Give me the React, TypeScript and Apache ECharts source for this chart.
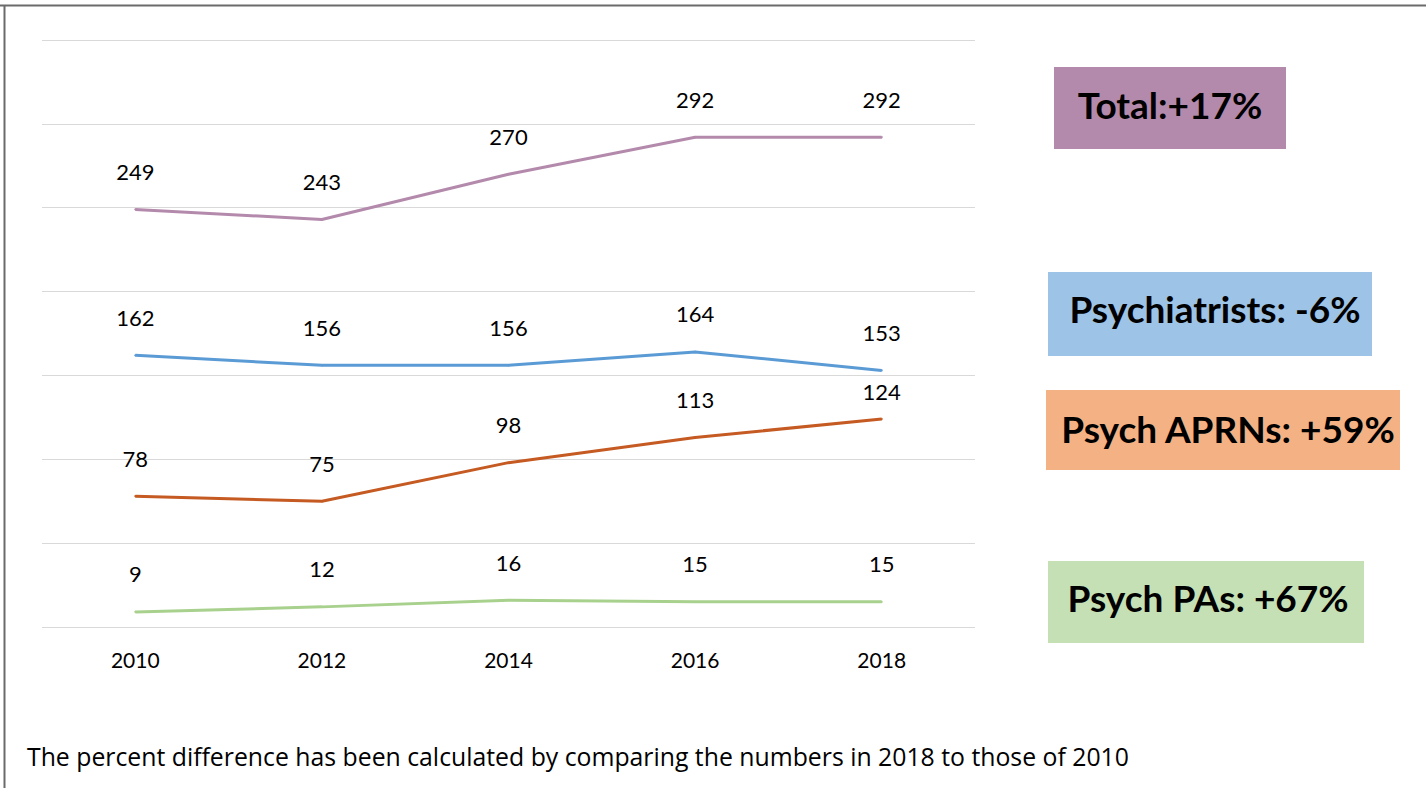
import React, { useEffect, useRef } from "react";
import * as echarts from "echarts";

const years = ["2010", "2012", "2014", "2016", "2018"];
const total = [249, 243, 270, 292, 292];
const psychiatrists = [162, 156, 156, 164, 153];
const aprns = [78, 75, 98, 113, 124];
const pas = [9, 12, 16, 15, 15];
const yTicks = { min: 0, max: 350, interval: 50 };

const boxes = [
  { text: "Total:+17%", color: "#b48aac" },
  { text: "Psychiatrists: -6%", color: "#9dc3e6" },
  { text: "Psych APRNs: +59%", color: "#f4b183" },
  { text: "Psych PAs: +67%", color: "#c5e0b4" },
];
const footer = "The percent difference has been calculated by comparing the numbers in 2018 to those of 2010";

const FONT = "Lato";

export default function App() {
  const ref = useRef<HTMLDivElement>(null);
  useEffect(() => {
    const chart = echarts.init(ref.current!, null, { renderer: "svg" });
    const mk = (name: string, data: number[], color: string, near?: number[]) => ({
      name,
      type: "line",
      data: data.map((v, i) =>
        near && near.includes(i) ? { value: v, label: { distance: 16 } } : v
      ),
      symbol: "circle",
      symbolSize: 2,
      itemStyle: { color },
      lineStyle: { color, width: 3 },
      label: {
        show: true,
        position: "top",
        distance: 26,
        fontSize: 22,
        fontFamily: FONT,
        color: "#000",
      },
    });
    const boxRects = [
      { x: 1054, y: 67, w: 232, h: 82, tx: 1170, ty: 104 },
      { x: 1048, y: 272, w: 324, h: 84, tx: 1215, ty: 308 },
      { x: 1046, y: 390, w: 354, h: 80, tx: 1228, ty: 428 },
      { x: 1048, y: 561, w: 316, h: 82, tx: 1208, ty: 597 },
    ];
    const graphic: any[] = [
      { type: "line", shape: { x1: 0, y1: 5.5, x2: 1426, y2: 5.5 }, style: { stroke: "#6b6b6b", lineWidth: 2 } },
      { type: "line", shape: { x1: 4.5, y1: 5, x2: 4.5, y2: 788 }, style: { stroke: "#6b6b6b", lineWidth: 2 } },
      {
        type: "text",
        x: 27,
        y: 756,
        style: { text: footer, font: `24.8px "Open Sans"`, fill: "#000", verticalAlign: "middle" },
      },
    ];
    boxes.forEach((b, i) => {
      const r = boxRects[i];
      graphic.push({
        type: "rect",
        shape: { x: r.x, y: r.y, width: r.w, height: r.h },
        style: { fill: b.color },
      });
      graphic.push({
        type: "text",
        x: r.tx,
        y: r.ty,
        style: {
          text: b.text,
          font: `bold 37px ${FONT}`,
          fill: "#000",
          align: "center",
          verticalAlign: "middle",
        },
      });
    });
    chart.setOption({
      animation: false,
      backgroundColor: "#fff",
      grid: { left: 42, right: 451, top: 40, bottom: 161 },
      xAxis: {
        type: "category",
        data: years,
        boundaryGap: true,
        axisLine: { show: false },
        axisTick: { show: false },
        axisLabel: { fontSize: 21, fontFamily: FONT, color: "#000", margin: 22 },
      },
      yAxis: {
        type: "value",
        min: yTicks.min,
        max: yTicks.max,
        interval: yTicks.interval,
        axisLabel: { show: false },
        axisLine: { show: false },
        axisTick: { show: false },
        splitLine: { lineStyle: { color: "#d9d9d9", width: 1 } },
      },
      series: [
        mk("Total", total, "#b48aac"),
        mk("Psychiatrists", psychiatrists, "#5b9bd5"),
        mk("Psych APRNs", aprns, "#c55a22", [4]),
        mk("Psych PAs", pas, "#a9d18e"),
      ],
      graphic,
    });
    return () => chart.dispose();
  }, []);
  return (
    <div
      ref={ref}
      style={{ position: "fixed", left: 0, top: 0, width: 1426, height: 788 }}
    />
  );
}
